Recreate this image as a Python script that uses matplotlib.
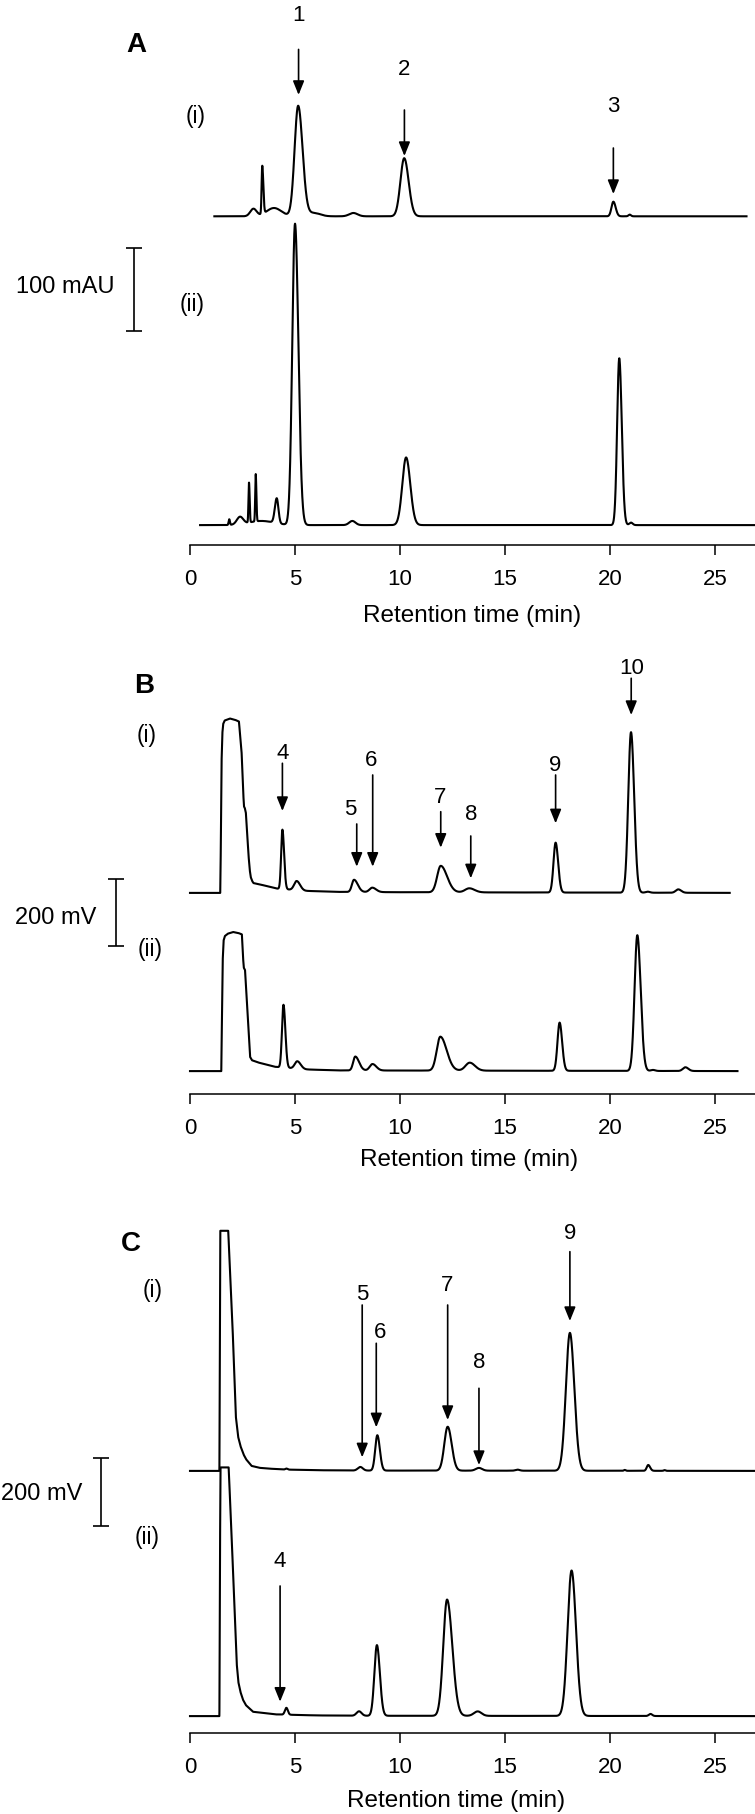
import numpy as np
import matplotlib
matplotlib.use("Agg")
import matplotlib.pyplot as plt

plt.rcParams['font.family'] = ['Liberation Sans', 'DejaVu Sans']

# ======================= DATA =======================
# time axis (min)
tick_values = [0, 5, 10, 15, 20, 25]
tick_labels = ["0", "5", "10", "15", "20", "25"]

# ---- Panel A (mAU) ----
A_i_range = (1.16, 26.5)
A_i_knot_t = [0.0, 27.0]
A_i_knot_y = [0.0, 0.0]
A_i_rt = [3.02, 3.44, 4.00, 5.15, 5.90, 7.78, 10.20, 20.16, 20.94]
A_i_h  = [9.0, 58.0, 10.0, 133.0, 4.0, 4.0, 70.0, 17.6, 2.0]
A_i_sl = [0.15, 0.03, 0.35, 0.17, 0.30, 0.20, 0.18, 0.09, 0.06]
A_i_sr = [0.15, 0.05, 0.35, 0.21, 0.30, 0.20, 0.21, 0.11, 0.06]

A_ii_range = (0.48, 27.0)
A_ii_knot_t = [0.0, 27.0]
A_ii_knot_y = [0.0, 0.0]
A_ii_rt = [1.87, 2.38, 2.81, 3.13, 3.40, 4.13, 5.00, 7.73, 10.29, 20.44, 21.00]
A_ii_h  = [6.8, 9.0, 48.0, 57.0, 5.0, 30.0, 363.0, 5.0, 81.5, 201.0, 3.0]
A_ii_sl = [0.03, 0.15, 0.025, 0.025, 0.6, 0.09, 0.13, 0.15, 0.18, 0.10, 0.08]
A_ii_sr = [0.03, 0.15, 0.03, 0.03, 0.6, 0.08, 0.16, 0.15, 0.20, 0.12, 0.08]

# ---- Panel B (mV) ----
B_i_range = (0.0, 25.7)
B_i_knot_t = [0, 1.44, 1.47, 1.50, 1.54, 1.58, 1.65, 1.90, 2.15, 2.33, 2.38, 2.46,
              2.53, 2.57, 2.61, 2.66, 2.72, 2.78, 2.84, 2.89, 2.96, 3.02, 3.33,
              3.81, 4.13, 5.5, 7.0, 10.0, 26.5]
B_i_knot_y = [0, 0, 150, 380, 470, 498, 508, 514, 510, 505, 470, 411,
              300, 255, 250, 236, 180, 116, 70, 47, 35, 29, 25,
              17.7, 12.8, 6, 3, 2, 0]
B_i_rt = [4.40, 5.08, 7.81, 8.68, 11.94, 13.30, 17.41, 21.00, 21.80, 23.25]
B_i_h  = [175, 27, 36, 13, 78, 12, 147, 473, 3, 10]
B_i_sl = [0.06, 0.12, 0.10, 0.13, 0.17, 0.20, 0.10, 0.13, 0.10, 0.12]
B_i_sr = [0.08, 0.16, 0.18, 0.18, 0.30, 0.25, 0.12, 0.15, 0.10, 0.14]

B_ii_range = (0.0, 26.07)
B_ii_knot_t = [0, 1.49, 1.52, 1.56, 1.60, 1.66, 1.80, 2.05, 2.30, 2.47, 2.52, 2.56,
               2.62, 2.74, 2.86, 2.95, 3.24, 3.85, 4.02, 5.5, 7.0, 26.5]
B_ii_knot_y = [0, 0, 150, 330, 385, 398, 405, 410, 407, 403, 340, 305,
               298, 170, 42, 32, 25.5, 15.7, 12.8, 5, 2, 0]
B_ii_rt = [4.45, 5.11, 7.87, 8.69, 11.92, 13.32, 17.60, 21.30, 22.05, 23.59]
B_ii_h  = [185, 22, 41, 19, 100, 23.5, 142, 400, 3, 11]
B_ii_sl = [0.07, 0.12, 0.10, 0.13, 0.17, 0.20, 0.10, 0.13, 0.10, 0.12]
B_ii_sr = [0.09, 0.16, 0.18, 0.18, 0.30, 0.25, 0.12, 0.16, 0.10, 0.14]

# ---- Panel C (mV) ----
C_i_range = (0.0, 27.0)
C_i_knot_t = [0, 1.40, 1.42, 1.44, 1.82, 2.02, 2.18, 2.29, 2.40, 2.55, 2.67, 2.93,
              3.30, 3.71, 4.5, 6.0, 8.0, 27.0]
C_i_knot_y = [0, 0, 350, 700, 700, 430, 160, 100, 73, 48, 34, 14.6,
              9, 6.8, 4, 2, 1, 0]
C_i_rt = [4.59, 8.11, 8.92, 12.27, 13.76, 15.60, 18.09, 20.70, 21.82, 22.60]
C_i_h  = [3, 10.5, 103, 128, 8, 3, 402, 2.5, 17, 2]
C_i_sl = [0.05, 0.12, 0.10, 0.16, 0.15, 0.10, 0.19, 0.04, 0.07, 0.04]
C_i_sr = [0.05, 0.12, 0.12, 0.19, 0.15, 0.10, 0.21, 0.04, 0.09, 0.04]

C_ii_range = (0.0, 27.0)
C_ii_knot_t = [0, 1.40, 1.42, 1.45, 1.84, 1.97, 2.10, 2.23, 2.30, 2.40, 2.52, 2.66,
               3.0, 4.06, 6.0, 8.0, 27.0]
C_ii_knot_y = [0, 0, 360, 725, 725, 543, 343, 149, 100, 71, 48, 32,
               12.6, 5, 2, 1, 0]
C_ii_rt = [4.59, 8.05, 8.90, 12.24, 13.70, 18.17, 21.93]
C_ii_h  = [20, 13, 206, 339, 13, 424, 6]
C_ii_sl = [0.07, 0.12, 0.12, 0.18, 0.18, 0.19, 0.08]
C_ii_sr = [0.07, 0.12, 0.14, 0.25, 0.18, 0.21, 0.08]

# ---- peak annotation labels ----
A_peak_ids = ["1", "2", "3"]
B_peak_ids = ["4", "5", "6", "7", "8", "9", "10"]
C_peak_ids = ["5", "6", "7", "8", "9", "4"]

# ======================= LAYOUT =======================
W, H = 755, 1814
X0_PX, PX_PER_MIN = 190.0, 21.0
fig = plt.figure(figsize=(W / 100, H / 100), dpi=100)


def fy(px):
    return 1 - px / H


def fx(px):
    return px / W


def asym(t, rt, h, sl, sr):
    s = np.where(t < rt, sl, sr)
    return h * np.exp(-0.5 * ((t - rt) / s) ** 2)


def build(rng, kt, ky, rts, hs, sls, srs):
    t = np.linspace(rng[0], rng[1], 8000)
    y = np.interp(t, kt, ky)
    for rt, h, sl, sr in zip(rts, hs, sls, srs):
        y = y + asym(t, rt, h, sl, sr)
    return t, y


def make_axes(top_px, axis_px, base_ii_px, ppu):
    ax = fig.add_axes([fx(X0_PX), fy(axis_px), fx(W - X0_PX), (axis_px - top_px) / H])
    ax.set_facecolor('none')
    ax.set_xlim(0, (W - X0_PX) / PX_PER_MIN)
    ax.set_ylim(-(axis_px - base_ii_px) / ppu, (base_ii_px - top_px) / ppu)
    for s in ['left', 'right', 'top']:
        ax.spines[s].set_visible(False)
    ax.spines['bottom'].set_linewidth(1.1)
    ax.set_yticks([])
    ax.set_xticks(tick_values)
    ax.set_xticklabels(tick_labels)
    ax.tick_params(axis='x', direction='out', length=7.2, width=1.1, pad=10.5,
                   labelsize=16)
    return ax


def add_xlabel(ax, cx_px, cy_px, axis_px, top_px):
    ax.set_xlabel("Retention time (min)", fontsize=17.5)
    ax.xaxis.set_label_coords((cx_px - X0_PX) / (W - X0_PX),
                              -(cy_px - axis_px) / (axis_px - top_px))
    ax.xaxis.label.set_va('center')


def arrows(ax, ids, t, head, tail, lt, ly):
    for s, a, hd, tl, x2, y2 in zip(ids, t, head, tail, lt, ly):
        ax.annotate('', xy=(a, hd), xytext=(a, tl),
                    arrowprops=dict(arrowstyle='-|>,head_length=0.42,head_width=0.17',
                                    lw=1.2, color='black', mutation_scale=20,
                                    shrinkA=0, shrinkB=0),
                    annotation_clip=False)
        ax.text(x2, y2, s, ha='center', va='center', fontsize=16, clip_on=False)


def scalebar(ax, x, lo, hi):
    ax.errorbar([x], [(lo + hi) / 2], yerr=[(hi - lo) / 2], fmt='none',
                ecolor='black', elinewidth=1.2, capsize=5.8, capthick=1.2,
                clip_on=False)


LW = 1.5

# ---------------- Panel A ----------------
A_top, A_axis, A_ii, A_i, A_ppu = 0.0, 544.5, 525.1, 216.3, 0.83
axA = make_axes(A_top, A_axis, A_ii, A_ppu)
offA = (A_ii - A_i) / A_ppu
t, y = build(A_i_range, A_i_knot_t, A_i_knot_y, A_i_rt, A_i_h, A_i_sl, A_i_sr)
axA.plot(t, y + offA, color='black', lw=LW, clip_on=False)
t, y = build(A_ii_range, A_ii_knot_t, A_ii_knot_y, A_ii_rt, A_ii_h, A_ii_sl, A_ii_sr)
axA.plot(t, y, color='black', lw=LW, clip_on=False)
arrows(axA, A_peak_ids, [5.17, 10.21, 20.16], [518.3, 444.7, 398.9],
       [573.1, 500.1, 454.3], [5.17, 10.21, 20.16], [613.6, 549.5, 504.0])
scalebar(axA, -2.69, 233.9, 333.9)
add_xlabel(axA, 472, 616, A_axis, A_top)

# ---------------- Panel B ----------------
B_top, B_axis, B_ii, B_i, B_ppu = 640.0, 1093.6, 1071.1, 892.9, 0.3393
axB = make_axes(B_top, B_axis, B_ii, B_ppu)
offB = (B_ii - B_i) / B_ppu
t, y = build(B_i_range, B_i_knot_t, B_i_knot_y, B_i_rt, B_i_h, B_i_sl, B_i_sr)
axB.plot(t, y + offB, color='black', lw=LW, clip_on=False)
t, y = build(B_ii_range, B_ii_knot_t, B_ii_knot_y, B_ii_rt, B_ii_h, B_ii_sl, B_ii_sr)
axB.plot(t, y, color='black', lw=LW, clip_on=False)
arrows(axB, B_peak_ids,
       [4.40, 7.94, 8.70, 11.94, 13.37, 17.41, 21.01],
       [766.6, 602.4, 602.4, 658.4, 568.2, 730.3, 1049.5],
       [907.2, 728.3, 872.7, 764.5, 692.9, 872.7, 1157.7],
       [4.40, 7.62, 8.62, 11.90, 13.41, 17.41, 21.01],
       [936.0, 769.7, 915.4, 807.8, 754.8, 900.7, 1186.6])
scalebar(axB, -3.54, 367.5, 567.5)
add_xlabel(axB, 469, 1159.6, B_axis, B_top)

# ---------------- Panel C ----------------
C_top, C_axis, C_ii, C_i, C_ppu = 1210.0, 1732.5, 1716.1, 1470.9, 0.343
axC = make_axes(C_top, C_axis, C_ii, C_ppu)
offC = (C_ii - C_i) / C_ppu
t, y = build(C_i_range, C_i_knot_t, C_i_knot_y, C_i_rt, C_i_h, C_i_sl, C_i_sr)
axC.plot(t, y + offC, color='black', lw=LW, clip_on=False)
t, y = build(C_ii_range, C_ii_knot_t, C_ii_knot_y, C_ii_rt, C_ii_h, C_ii_sl, C_ii_sr)
axC.plot(t, y, color='black', lw=LW, clip_on=False)
arrows(axC, C_peak_ids,
       [8.20, 8.87, 12.27, 13.76, 18.09, 4.29],
       [754.5, 842.0, 863.3, 732.0, 1151.9, 42.0],
       [1198.5, 1086.9, 1198.5, 955.7, 1354.0, 379.3],
       [8.20, 9.04, 12.24, 13.76, 18.09, 4.29],
       [1229.2, 1118.9, 1254.0, 1030.3, 1407.6, 449.3])
scalebar(axC, -4.23, 553.6, 753.6)
add_xlabel(axC, 456, 1800.7, C_axis, C_top)

# ---------------- free text ----------------
for s, x, yy in [("A", 136, 44.5), ("B", 144, 686.4), ("C", 130.7, 1244)]:
    fig.text(fx(x), fy(yy), s, ha='center', va='center', fontsize=20, fontweight='bold')
for s, x, yy in [("(i)", 196, 116), ("(ii)", 192, 305), ("(i)", 147, 736),
                 ("(ii)", 150, 949), ("(i)", 152.5, 1291), ("(ii)", 147.5, 1537.8)]:
    fig.text(fx(x), fy(yy), s, ha='center', va='center', fontsize=16.5)
for s, xr, yy in [("100 mAU", 115, 286.7), ("200 mV", 96.3, 918), ("200 mV", 82, 1493.7)]:
    fig.text(fx(xr), fy(yy), s, ha='right', va='center', fontsize=17)

fig.savefig("out.png", dpi=100)
